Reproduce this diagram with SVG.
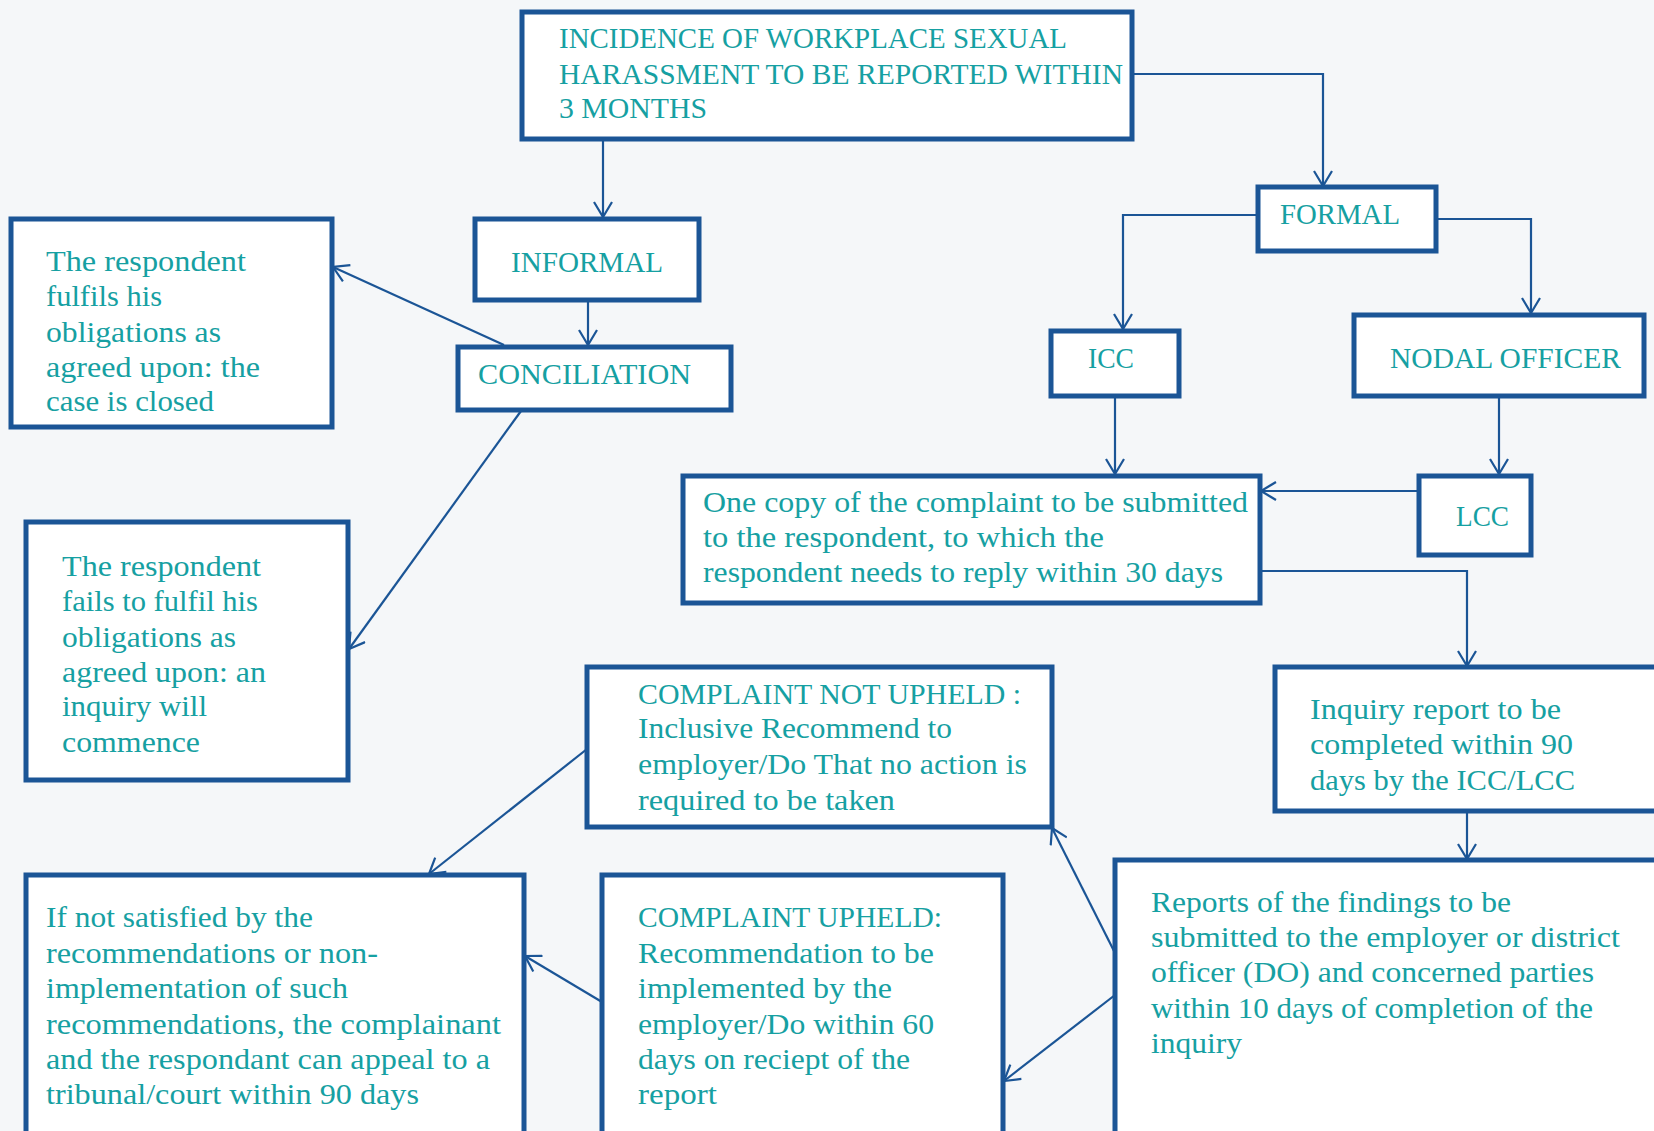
<svg xmlns="http://www.w3.org/2000/svg" width="1654" height="1131" viewBox="0 0 1654 1131">
<style>
.box{fill:#ffffff;stroke:#1b5596;stroke-width:5}
.t{font-family:"Liberation Serif","DejaVu Serif",serif;font-size:29px;fill:#16a0a2}
.c{fill:none;stroke:#1b5596;stroke-width:2.2}
</style>
<defs>
<marker id="ah" markerUnits="userSpaceOnUse" markerWidth="18" markerHeight="20" viewBox="0 0 18 20" refX="16" refY="10" orient="auto">
<path d="M1,1 L16,10 L1,19" fill="none" stroke="#1b5596" stroke-width="2.2"/>
</marker>
</defs>
<rect width="1654" height="1131" fill="#f5f7f9"/>
<g id="connectors">
<path class="c" d="M603,139 L603,217" marker-end="url(#ah)"/>
<path class="c" d="M1132,74 L1323,74 L1323,186" marker-end="url(#ah)"/>
<path class="c" d="M588,300 L588,345" marker-end="url(#ah)"/>
<path class="c" d="M504,345 L333,267" marker-end="url(#ah)"/>
<path class="c" d="M521,411 L349,649" marker-end="url(#ah)"/>
<path class="c" d="M1258,215 L1123,215 L1123,329" marker-end="url(#ah)"/>
<path class="c" d="M1436,219 L1531,219 L1531,313" marker-end="url(#ah)"/>
<path class="c" d="M1115,396 L1115,474" marker-end="url(#ah)"/>
<path class="c" d="M1499,396 L1499,474" marker-end="url(#ah)"/>
<path class="c" d="M1419,491 L1261,491" marker-end="url(#ah)"/>
<path class="c" d="M1260,571 L1467,571 L1467,666" marker-end="url(#ah)"/>
<path class="c" d="M1467,811 L1467,859" marker-end="url(#ah)"/>
<path class="c" d="M1115,953 L1052,828" marker-end="url(#ah)"/>
<path class="c" d="M1115,995 L1004,1081" marker-end="url(#ah)"/>
<path class="c" d="M602,1002 L525,956" marker-end="url(#ah)"/>
<path class="c" d="M587,749 L429,874" marker-end="url(#ah)"/>
</g>
<g id="n-incidence">
<rect class="box" x="522" y="12" width="610" height="127"/>
<text class="t" x="559" y="48" textLength="508" lengthAdjust="spacingAndGlyphs">INCIDENCE OF WORKPLACE SEXUAL</text>
<text class="t" x="559" y="84" textLength="564" lengthAdjust="spacingAndGlyphs">HARASSMENT TO BE REPORTED WITHIN</text>
<text class="t" x="559" y="118" textLength="148" lengthAdjust="spacingAndGlyphs">3 MONTHS</text>
</g>
<g id="n-informal">
<rect class="box" x="475" y="219" width="224" height="81"/>
<text class="t" x="511" y="272" textLength="152" lengthAdjust="spacingAndGlyphs">INFORMAL</text>
</g>
<g id="n-conciliation">
<rect class="box" x="458" y="347" width="273" height="63"/>
<text class="t" x="478" y="384" textLength="213" lengthAdjust="spacingAndGlyphs">CONCILIATION</text>
</g>
<g id="n-fulfils">
<rect class="box" x="11" y="219" width="321" height="208"/>
<text class="t" x="46" y="271" textLength="200" lengthAdjust="spacingAndGlyphs">The respondent</text>
<text class="t" x="46" y="306" textLength="116" lengthAdjust="spacingAndGlyphs">fulfils his</text>
<text class="t" x="46" y="342" textLength="175" lengthAdjust="spacingAndGlyphs">obligations as</text>
<text class="t" x="46" y="377" textLength="214" lengthAdjust="spacingAndGlyphs">agreed upon: the</text>
<text class="t" x="46" y="411" textLength="168" lengthAdjust="spacingAndGlyphs">case is closed</text>
</g>
<g id="n-fails">
<rect class="box" x="26" y="522" width="322" height="258"/>
<text class="t" x="62" y="576" textLength="199" lengthAdjust="spacingAndGlyphs">The respondent</text>
<text class="t" x="62" y="611" textLength="196" lengthAdjust="spacingAndGlyphs">fails to fulfil his</text>
<text class="t" x="62" y="647" textLength="174" lengthAdjust="spacingAndGlyphs">obligations as</text>
<text class="t" x="62" y="682" textLength="204" lengthAdjust="spacingAndGlyphs">agreed upon: an</text>
<text class="t" x="62" y="716" textLength="145" lengthAdjust="spacingAndGlyphs">inquiry will</text>
<text class="t" x="62" y="752" textLength="138" lengthAdjust="spacingAndGlyphs">commence</text>
</g>
<g id="n-formal">
<rect class="box" x="1258" y="187" width="178" height="64"/>
<text class="t" x="1280" y="224" textLength="120" lengthAdjust="spacingAndGlyphs">FORMAL</text>
</g>
<g id="n-icc">
<rect class="box" x="1051" y="331" width="128" height="65"/>
<text class="t" x="1088" y="368" textLength="46" lengthAdjust="spacingAndGlyphs">ICC</text>
</g>
<g id="n-nodal">
<rect class="box" x="1354" y="315" width="290" height="81"/>
<text class="t" x="1390" y="368" textLength="231" lengthAdjust="spacingAndGlyphs">NODAL OFFICER</text>
</g>
<g id="n-copy">
<rect class="box" x="683" y="476" width="577" height="127"/>
<text class="t" x="703" y="512" textLength="545" lengthAdjust="spacingAndGlyphs">One copy of the complaint to be submitted</text>
<text class="t" x="703" y="547" textLength="401" lengthAdjust="spacingAndGlyphs">to the respondent, to which the</text>
<text class="t" x="703" y="582" textLength="520" lengthAdjust="spacingAndGlyphs">respondent needs to reply within 30 days</text>
</g>
<g id="n-lcc">
<rect class="box" x="1419" y="476" width="112" height="79"/>
<text class="t" x="1456" y="526" textLength="53" lengthAdjust="spacingAndGlyphs">LCC</text>
</g>
<g id="n-inquiry">
<rect class="box" x="1275" y="667" width="390" height="144"/>
<text class="t" x="1310" y="719" textLength="251" lengthAdjust="spacingAndGlyphs">Inquiry report to be</text>
<text class="t" x="1310" y="754" textLength="263" lengthAdjust="spacingAndGlyphs">completed within 90</text>
<text class="t" x="1310" y="790" textLength="265" lengthAdjust="spacingAndGlyphs">days by the ICC/LCC</text>
</g>
<g id="n-notupheld">
<rect class="box" x="587" y="667" width="465" height="160"/>
<text class="t" x="638" y="704" textLength="383" lengthAdjust="spacingAndGlyphs">COMPLAINT NOT UPHELD :</text>
<text class="t" x="638" y="738" textLength="314" lengthAdjust="spacingAndGlyphs">Inclusive Recommend to</text>
<text class="t" x="638" y="774" textLength="389" lengthAdjust="spacingAndGlyphs">employer/Do That no action is</text>
<text class="t" x="638" y="810" textLength="257" lengthAdjust="spacingAndGlyphs">required to be taken</text>
</g>
<g id="n-reports">
<rect class="box" x="1115" y="860" width="550" height="280"/>
<text class="t" x="1151" y="912" textLength="360" lengthAdjust="spacingAndGlyphs">Reports of the findings to be</text>
<text class="t" x="1151" y="947" textLength="469" lengthAdjust="spacingAndGlyphs">submitted to the employer or district</text>
<text class="t" x="1151" y="982" textLength="443" lengthAdjust="spacingAndGlyphs">officer (DO) and concerned parties</text>
<text class="t" x="1151" y="1018" textLength="442" lengthAdjust="spacingAndGlyphs">within 10 days of completion of the</text>
<text class="t" x="1151" y="1053" textLength="91" lengthAdjust="spacingAndGlyphs">inquiry</text>
</g>
<g id="n-appeal">
<rect class="box" x="26" y="875" width="498" height="265"/>
<text class="t" x="46" y="927" textLength="267" lengthAdjust="spacingAndGlyphs">If not satisfied by the</text>
<text class="t" x="46" y="963" textLength="332" lengthAdjust="spacingAndGlyphs">recommendations or non-</text>
<text class="t" x="46" y="998" textLength="302" lengthAdjust="spacingAndGlyphs">implementation of such</text>
<text class="t" x="46" y="1034" textLength="455" lengthAdjust="spacingAndGlyphs">recommendations, the complainant</text>
<text class="t" x="46" y="1069" textLength="444" lengthAdjust="spacingAndGlyphs">and the respondant can appeal to a</text>
<text class="t" x="46" y="1104" textLength="373" lengthAdjust="spacingAndGlyphs">tribunal/court within 90 days</text>
</g>
<g id="n-upheld">
<rect class="box" x="602" y="875" width="401" height="265"/>
<text class="t" x="638" y="927" textLength="304" lengthAdjust="spacingAndGlyphs">COMPLAINT UPHELD:</text>
<text class="t" x="638" y="963" textLength="296" lengthAdjust="spacingAndGlyphs">Recommendation to be</text>
<text class="t" x="638" y="998" textLength="254" lengthAdjust="spacingAndGlyphs">implemented by the</text>
<text class="t" x="638" y="1034" textLength="296" lengthAdjust="spacingAndGlyphs">employer/Do within 60</text>
<text class="t" x="638" y="1069" textLength="272" lengthAdjust="spacingAndGlyphs">days on reciept of the</text>
<text class="t" x="638" y="1104" textLength="79" lengthAdjust="spacingAndGlyphs">report</text>
</g>
</svg>
